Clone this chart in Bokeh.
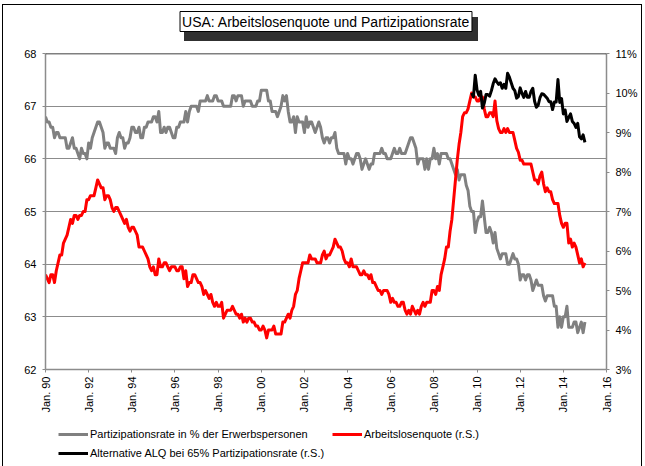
import math
from bokeh.plotting import figure
from bokeh.layouts import column
from bokeh.models import Range1d, LinearAxis, FixedTicker, Span, Legend, LegendItem, Title
from bokeh.embed import file_html
from bokeh.resources import INLINE

title_text = "USA: Arbeitslosenquote und Partizipationsrate"

start_year = 1990  # monthly data from Jan. 1990
participation = [
    66.8, 66.7, 66.7, 66.6, 66.6, 66.4, 66.5, 66.5, 66.4, 66.4, 66.4, 66.4,
    66.2, 66.2, 66.3, 66.4, 66.2, 66.2, 66.1, 66.0, 66.2, 66.1, 66.1, 66.0,
    66.3, 66.2, 66.4, 66.5, 66.6, 66.7, 66.7, 66.6, 66.5, 66.2, 66.3, 66.3,
    66.2, 66.2, 66.2, 66.1, 66.4, 66.5, 66.4, 66.4, 66.2, 66.3, 66.3, 66.4,
    66.6, 66.6, 66.5, 66.5, 66.6, 66.4, 66.4, 66.6, 66.6, 66.7, 66.7, 66.7,
    66.8, 66.8, 66.7, 66.9, 66.5, 66.5, 66.6, 66.5, 66.6, 66.6, 66.5, 66.4,
    66.4, 66.6, 66.6, 66.7, 66.7, 66.7, 66.9, 66.7, 66.9, 67.0, 67.0, 67.0,
    67.0, 66.9, 67.1, 67.1, 67.1, 67.1, 67.2, 67.1, 67.1, 67.1, 67.2, 67.2,
    67.1, 67.1, 67.1, 67.0, 67.0, 67.0, 67.0, 67.0, 67.2, 67.2, 67.1, 67.2,
    67.2, 67.2, 67.0, 67.1, 67.1, 67.1, 67.1, 67.0, 67.0, 67.0, 67.1, 67.1,
    67.3, 67.3, 67.3, 67.3, 67.1, 67.1, 66.9, 66.9, 66.9, 66.8, 66.9, 67.0,
    67.2, 67.1, 67.2, 66.9, 66.7, 66.7, 66.8, 66.5, 66.8, 66.7, 66.7, 66.7,
    66.5, 66.8, 66.6, 66.7, 66.7, 66.6, 66.5, 66.6, 66.7, 66.6, 66.4, 66.3,
    66.4, 66.4, 66.3, 66.4, 66.4, 66.5, 66.2, 66.1, 66.1, 66.1, 66.1, 65.9,
    66.1, 66.0, 66.0, 65.9, 66.0, 66.1, 66.1, 66.0, 65.8, 65.9, 66.0, 65.9,
    65.8, 65.9, 65.9, 66.1, 66.1, 66.1, 66.1, 66.2, 66.1, 66.1, 66.0, 66.0,
    66.0, 66.1, 66.2, 66.1, 66.1, 66.2, 66.1, 66.1, 66.1, 66.2, 66.3, 66.4,
    66.4, 66.3, 66.2, 65.9, 66.0, 66.0, 66.0, 65.8, 66.0, 65.8, 66.0, 66.0,
    66.2, 66.0, 66.1, 65.9, 66.1, 66.1, 66.1, 66.1, 66.0, 66.0, 65.9, 65.8,
    65.7, 65.8, 65.6, 65.7, 65.7, 65.7, 65.5, 65.4, 65.1, 65.0, 65.0, 64.6,
    64.8, 64.9, 64.9, 65.2, 64.9, 64.6, 64.6, 64.7, 64.6, 64.4, 64.6, 64.3,
    64.2, 64.1, 64.2, 64.2, 64.2, 64.0, 64.0, 64.1, 64.2, 64.1, 64.1, 64.0,
    63.7, 63.8, 63.8, 63.7, 63.8, 63.8, 63.7, 63.5, 63.6, 63.7, 63.6, 63.6,
    63.6, 63.4, 63.3, 63.4, 63.4, 63.4, 63.4, 63.2, 63.2, 62.8, 63.0, 62.8,
    63.0, 63.0, 63.2, 62.8, 62.8, 62.8, 62.9, 62.9, 62.7, 62.8, 62.9, 62.7,
    62.9,
]
unemployment = [
    5.4, 5.3, 5.2, 5.4, 5.4, 5.2, 5.5, 5.7, 5.9, 5.9, 6.2, 6.3,
    6.4, 6.6, 6.8, 6.7, 6.9, 6.9, 6.8, 6.9, 6.9, 7.0, 7.0, 7.3,
    7.3, 7.4, 7.4, 7.4, 7.6, 7.8, 7.7, 7.6, 7.6, 7.3, 7.4, 7.4,
    7.3, 7.1, 7.0, 7.1, 7.1, 7.0, 6.9, 6.8, 6.7, 6.8, 6.6, 6.5,
    6.6, 6.6, 6.5, 6.4, 6.1, 6.1, 6.1, 6.0, 5.9, 5.8, 5.6, 5.5,
    5.6, 5.4, 5.4, 5.8, 5.6, 5.6, 5.7, 5.7, 5.6, 5.5, 5.6, 5.6,
    5.6, 5.5, 5.5, 5.6, 5.6, 5.3, 5.5, 5.1, 5.2, 5.2, 5.4, 5.4,
    5.3, 5.2, 5.2, 5.1, 4.9, 5.0, 4.9, 4.8, 4.9, 4.7, 4.6, 4.7,
    4.6, 4.6, 4.7, 4.3, 4.4, 4.5, 4.5, 4.5, 4.6, 4.5, 4.4, 4.4,
    4.3, 4.4, 4.2, 4.3, 4.2, 4.3, 4.3, 4.2, 4.2, 4.1, 4.1, 4.0,
    4.0, 4.1, 4.0, 3.8, 4.0, 4.0, 4.0, 4.1, 3.9, 3.9, 3.9, 3.9,
    4.2, 4.2, 4.3, 4.4, 4.3, 4.5, 4.6, 4.9, 5.0, 5.3, 5.5, 5.7,
    5.7, 5.7, 5.7, 5.9, 5.8, 5.8, 5.8, 5.7, 5.7, 5.7, 5.9, 6.0,
    5.8, 5.9, 5.9, 6.0, 6.1, 6.3, 6.2, 6.1, 6.1, 6.0, 5.8, 5.7,
    5.7, 5.6, 5.8, 5.6, 5.6, 5.6, 5.5, 5.4, 5.4, 5.5, 5.4, 5.4,
    5.3, 5.4, 5.2, 5.2, 5.1, 5.0, 5.0, 4.9, 5.0, 5.0, 5.0, 4.9,
    4.7, 4.8, 4.7, 4.7, 4.6, 4.6, 4.7, 4.7, 4.5, 4.4, 4.5, 4.4,
    4.6, 4.5, 4.4, 4.5, 4.4, 4.6, 4.7, 4.6, 4.7, 4.7, 4.7, 5.0,
    5.0, 4.9, 5.1, 5.0, 5.4, 5.6, 5.8, 6.1, 6.1, 6.5, 6.8, 7.3,
    7.8, 8.3, 8.7, 9.0, 9.4, 9.5, 9.5, 9.6, 9.8, 10.0, 9.9, 9.9,
    9.8, 9.8, 9.9, 9.9, 9.6, 9.4, 9.4, 9.5, 9.5, 9.4, 9.8, 9.3,
    9.1, 9.0, 9.0, 9.1, 9.0, 9.1, 9.0, 9.0, 9.0, 8.8, 8.6, 8.5,
    8.3, 8.3, 8.2, 8.2, 8.2, 8.2, 8.2, 8.0, 7.8, 7.8, 7.7, 7.9,
    8.0, 7.7, 7.5, 7.6, 7.5, 7.5, 7.3, 7.2, 7.2, 7.2, 6.9, 6.7,
    6.6, 6.7, 6.7, 6.2, 6.3, 6.1, 6.2, 6.1, 5.9, 5.7, 5.8, 5.6,
    5.7,
]
alt_start_year = 2009
alt_start_month = 10  # Oct. 2009
alternative = [
    10.00, 9.90, 10.45,
    10.08, 9.94, 10.04, 9.62, 9.74, 9.96, 9.96, 9.92, 10.06, 10.24, 10.36, 10.28,
    10.22, 10.26, 10.12, 10.22, 10.12, 10.50, 10.40, 10.26, 10.12, 10.06, 9.87, 9.91,
    10.13, 9.99, 9.89, 10.04, 9.89, 9.89, 10.04, 10.12, 9.79, 9.64, 9.69, 9.88,
    9.98, 9.97, 9.92, 9.87, 9.78, 9.78, 9.58, 9.77, 9.77, 10.34, 9.76, 9.86,
    9.47, 9.57, 9.28, 9.38, 9.47, 9.28, 9.23, 9.13, 9.23, 8.89, 8.84, 8.94,
    8.75,
]

x_ticks = list(range(1990, 2017, 2))
x_labels = ["Jan. %02d" % (y % 100) for y in x_ticks]
left_ticks = [62, 63, 64, 65, 66, 67, 68]
right_ticks = [3, 4, 5, 6, 7, 8, 9, 10, 11]
right_labels = ["%d%%" % t for t in right_ticks]

series_colors = ["#808080", "#ff0000", "#000000"]
legend_labels = [
    "Partizipationsrate in % der Erwerbspersonen",
    "Arbeitslosenquote (r.S.)",
    "Alternative ALQ bei 65% Partizipationsrate (r.S.)",
]

x_main = [start_year + i / 12 for i in range(len(participation))]
x_alt = [alt_start_year + (alt_start_month - 1) / 12 + i / 12 for i in range(len(alternative))]
series_xy = [(x_main, participation), (x_main, unemployment), (x_alt, alternative)]

FONT = "Liberation Sans"
AXIS_GRAY = "#8c8c8c"

# outer chart frame and the title's drop shadow, drawn as the page element's background
host_bg = ", ".join([
    "linear-gradient(#000,#000) 2px 4px / 1px 100% no-repeat",
    "linear-gradient(#000,#000) 2px 4px / 640px 1px no-repeat",
    "linear-gradient(#000,#000) 641px 4px / 1px 100% no-repeat",
    "linear-gradient(#303030,#303030) 184px 17px / 294px 24px no-repeat",
    "#ffffff",
])

# ---------------- main chart ----------------
p = figure(frame_width=561, frame_height=316, output_backend="svg", toolbar_location=None,
           x_range=Range1d(1990, 2016), y_range=Range1d(left_ticks[0], left_ticks[-1]),
           min_border_left=45, min_border_right=39, min_border_top=53, min_border_bottom=57,
           background_fill_color="white", border_fill_color=None, title=title_text)
p.outline_line_color = None
p.extra_y_ranges = {"r": Range1d(right_ticks[0], right_ticks[-1])}

p.title.align = "center"
p.title.text_font = FONT
p.title.text_font_size = "14px"
p.title.text_font_style = "normal"
p.title.text_color = "#000000"
p.title.background_fill_color = "white"
p.title.border_line_color = "black"
p.title.border_line_width = 1
p.title.padding = 2
p.title.standoff = 0

# empty spacer between the title box and the plot area
p.add_layout(Title(text=" ", text_font_size="1px", standoff=19), "above")

right_axis = LinearAxis(y_range_name="r")
p.add_layout(right_axis, "right")

p.xaxis.ticker = FixedTicker(ticks=x_ticks)
p.xaxis.major_label_overrides = dict(zip(x_ticks, x_labels))
p.xaxis.major_label_orientation = math.pi / 2
p.yaxis[0].ticker = FixedTicker(ticks=left_ticks)
right_axis.ticker = FixedTicker(ticks=right_ticks)
right_axis.major_label_overrides = dict(zip(right_ticks, right_labels))

for ax in [p.xaxis[0], p.yaxis[0], right_axis]:
    ax.axis_line_color = AXIS_GRAY
    ax.axis_line_width = 1.5
    ax.major_tick_line_color = AXIS_GRAY
    ax.major_tick_line_width = 1
    ax.major_tick_out = 3
    ax.major_tick_in = 0
    ax.minor_tick_line_color = None
    ax.major_label_text_font = FONT
    ax.major_label_text_font_size = "11px"
    ax.major_label_text_color = "#000000"
p.xaxis.major_label_standoff = 4
p.yaxis[0].major_label_standoff = 6
right_axis.major_label_standoff = 6

p.xgrid.visible = False
p.ygrid.ticker = FixedTicker(ticks=left_ticks)
p.ygrid.grid_line_color = AXIS_GRAY
p.ygrid.grid_line_width = 1

p.add_layout(Span(location=left_ticks[-1], dimension="width", line_color="black", line_width=1.5))

p.line(x_main, participation, line_color=series_colors[0], line_width=3, line_join="round")
p.line(x_main, unemployment, line_color=series_colors[1], line_width=3, line_join="round",
       y_range_name="r")
p.line(x_alt, alternative, line_color=series_colors[2], line_width=3, line_join="round",
       y_range_name="r")

# ---------------- legend strip below the chart ----------------
# the strip's ranges lie outside the data, so its series only serve as legend swatches
p_leg = figure(frame_width=645, frame_height=40, output_backend="svg", toolbar_location=None,
               x_axis_location=None, y_axis_location=None, min_border=0,
               x_range=Range1d(0, 1), y_range=Range1d(0, 1),
               background_fill_color=None, border_fill_color=None)
p_leg.outline_line_color = None
p_leg.grid.visible = False
swatches = [p_leg.line(xs, ys, line_color=c, line_width=3)
            for (xs, ys), c in zip(series_xy, series_colors)]

legend = Legend(items=[LegendItem(label=legend_labels[i], renderers=[swatches[i]]) for i in range(3)],
                location=(58, 5), orientation="horizontal", ncols=2,
                label_text_font=FONT, label_text_font_size="11px", label_text_color="#000000",
                glyph_width=30, glyph_height=16, label_height=16, label_standoff=2,
                label_width=239, spacing=3, padding=0, margin=0,
                border_line_color=None, background_fill_alpha=0)
p_leg.add_layout(legend)

page = column(p, p_leg, spacing=0, styles={"background": host_bg})

open("out.html", "w").write(file_html(page, INLINE))
